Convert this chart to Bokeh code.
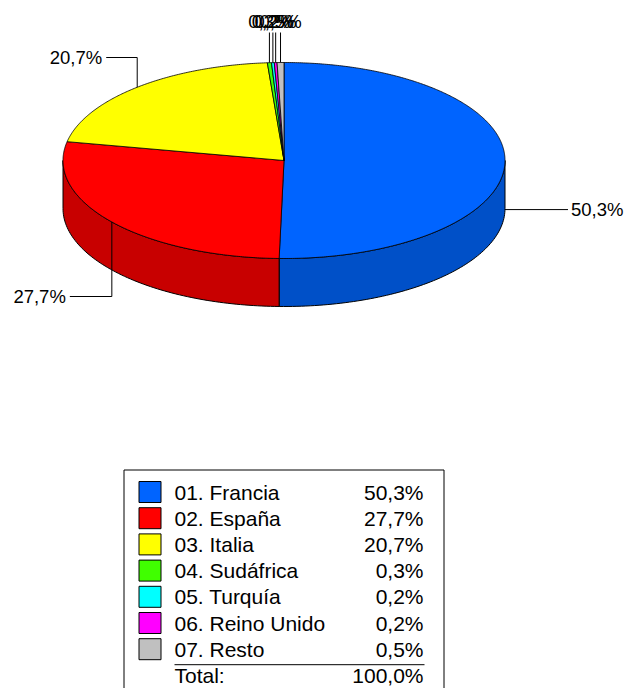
import numpy as np
from bokeh.plotting import figure
from bokeh.models import Range1d
from bokeh.core.properties import value
from bokeh.embed import file_html
from bokeh.resources import INLINE

# ---- data ----
categories = ["01. Francia", "02. España", "03. Italia", "04. Sudáfrica",
              "05. Turquía", "06. Reino Unido", "07. Resto"]
shares = [50.3, 27.7, 20.7, 0.3, 0.2, 0.2, 0.5]
share_labels = ["50,3%", "27,7%", "20,7%", "0,3%", "0,2%", "0,2%", "0,5%"]
total_label = "100,0%"
top_colors = ["#0064FF", "#FF0000", "#FFFF00", "#40FF00", "#00FFFF", "#FF00FF", "#C0C0C0"]
side_colors = ["#0050C8", "#C80000", "#C8C800", "#30C800", "#00C8C8", "#C800C8", "#989898"]

FONT = value("Liberation Sans")

# ---- geometry (pixel coordinates) ----
cx, cy, rx, ry, depth = 283.5, 160.0, 221.0, 98.0, 48.0

W, H = 625, 688
p = figure(width=W, height=H, output_backend="svg", toolbar_location=None,
           x_range=Range1d(0, W), y_range=Range1d(H, 0),
           min_border=0, outline_line_color=None)
p.axis.visible = False
p.grid.visible = False

vals = np.array(shares, dtype=float)
frac = vals / vals.sum()
cum = np.concatenate([[0], np.cumsum(frac)])
a_start = 90 - 360 * cum[:-1]
a_end = 90 - 360 * cum[1:]


def ell(t_deg, dy=0.0):
    t = np.radians(t_deg)
    return cx + rx * np.cos(t), cy - ry * np.sin(t) + dy


# sides (front half only)
for i in range(len(vals)):
    hi, lo = a_start[i], a_end[i]
    for k in range(-2, 2):
        f_lo, f_hi = -180 + 360 * k, 0 + 360 * k
        s_lo, s_hi = max(lo, f_lo), min(hi, f_hi)
        if s_hi - s_lo > 1e-6:
            ts = np.linspace(s_hi, s_lo, 80)
            x1, y1 = ell(ts)
            x2, y2 = ell(ts[::-1], depth)
            p.patch(np.concatenate([x1, x2]), np.concatenate([y1, y2]),
                    fill_color=side_colors[i], line_color="black", line_width=1)

# top faces
for i in range(len(vals)):
    n = max(3, int(abs(a_start[i] - a_end[i]) * 2))
    ts = np.linspace(a_start[i], a_end[i], n)
    x, y = ell(ts)
    p.patch(np.concatenate([[cx], x]), np.concatenate([[cy], y]),
            fill_color=top_colors[i], line_color="black", line_width=0.8)

LS = "18.5px"
for i in range(len(vals)):
    mid = (a_start[i] + a_end[i]) / 2
    mx, my = ell(mid)
    c, s = np.cos(np.radians(mid)), np.sin(np.radians(mid))
    if shares[i] < 1:
        ytop = cy - ry - 30
        p.line([mx, mx], [my, ytop], line_color="black", line_width=1)
        p.text([mx], [ytop - 1], text=[share_labels[i]], text_align="center",
               text_baseline="bottom", text_font=FONT, text_font_size=LS,
               text_color="black")
    elif c > 0.9:
        yy = my + depth
        p.line([mx, mx + 63], [yy, yy], line_color="black", line_width=1)
        p.text([mx + 66], [yy], text=[share_labels[i]], text_align="left",
               text_baseline="middle", text_font=FONT, text_font_size=LS,
               text_color="black")
    elif s < 0:
        yy = cy + ry + depth - 10
        p.line([mx, mx, mx - 42], [my, yy, yy], line_color="black", line_width=1)
        p.text([mx - 46], [yy], text=[share_labels[i]], text_align="right",
               text_baseline="middle", text_font=FONT, text_font_size=LS,
               text_color="black")
    else:
        yy = cy - ry - 5
        p.line([mx, mx, mx - 31], [my, yy, yy], line_color="black", line_width=1)
        p.text([mx - 35], [yy], text=[share_labels[i]], text_align="right",
               text_baseline="middle", text_font=FONT, text_font_size=LS,
               text_color="black")

# ---- legend table ----
lx0, lx1, ly0 = 123.5, 443.5, 469.5
p.quad(left=[lx0], right=[lx1], top=[ly0], bottom=[720], fill_color="white",
       line_color="black", line_width=1)
row_h = 26.2
y0 = 491.5
ys = [y0 + row_h * i for i in range(len(categories))]
p.quad(left=[138.5] * len(ys), right=[160.5] * len(ys),
       top=[y - 10.5 for y in ys], bottom=[y + 10.5 for y in ys],
       fill_color=top_colors, line_color="black", line_width=1)
FS = "21px"
p.text([174] * len(ys), ys, text=categories, text_align="left",
       text_baseline="middle", text_font=FONT, text_font_size=FS,
       text_color="black")
p.text([423] * len(ys), ys, text=share_labels, text_align="right",
       text_baseline="middle", text_font=FONT, text_font_size=FS,
       text_color="black")
yline = ys[-1] + 15.5
p.line([174, 424], [yline, yline], line_color="black", line_width=1)
ytot = ys[-1] + row_h + 0.5
p.text([174], [ytot], text=["Total:"], text_align="left", text_baseline="middle",
       text_font=FONT, text_font_size=FS, text_color="black")
p.text([423], [ytot], text=[total_label], text_align="right", text_baseline="middle",
       text_font=FONT, text_font_size=FS, text_color="black")

open("out.html", "w").write(file_html(p, INLINE))
